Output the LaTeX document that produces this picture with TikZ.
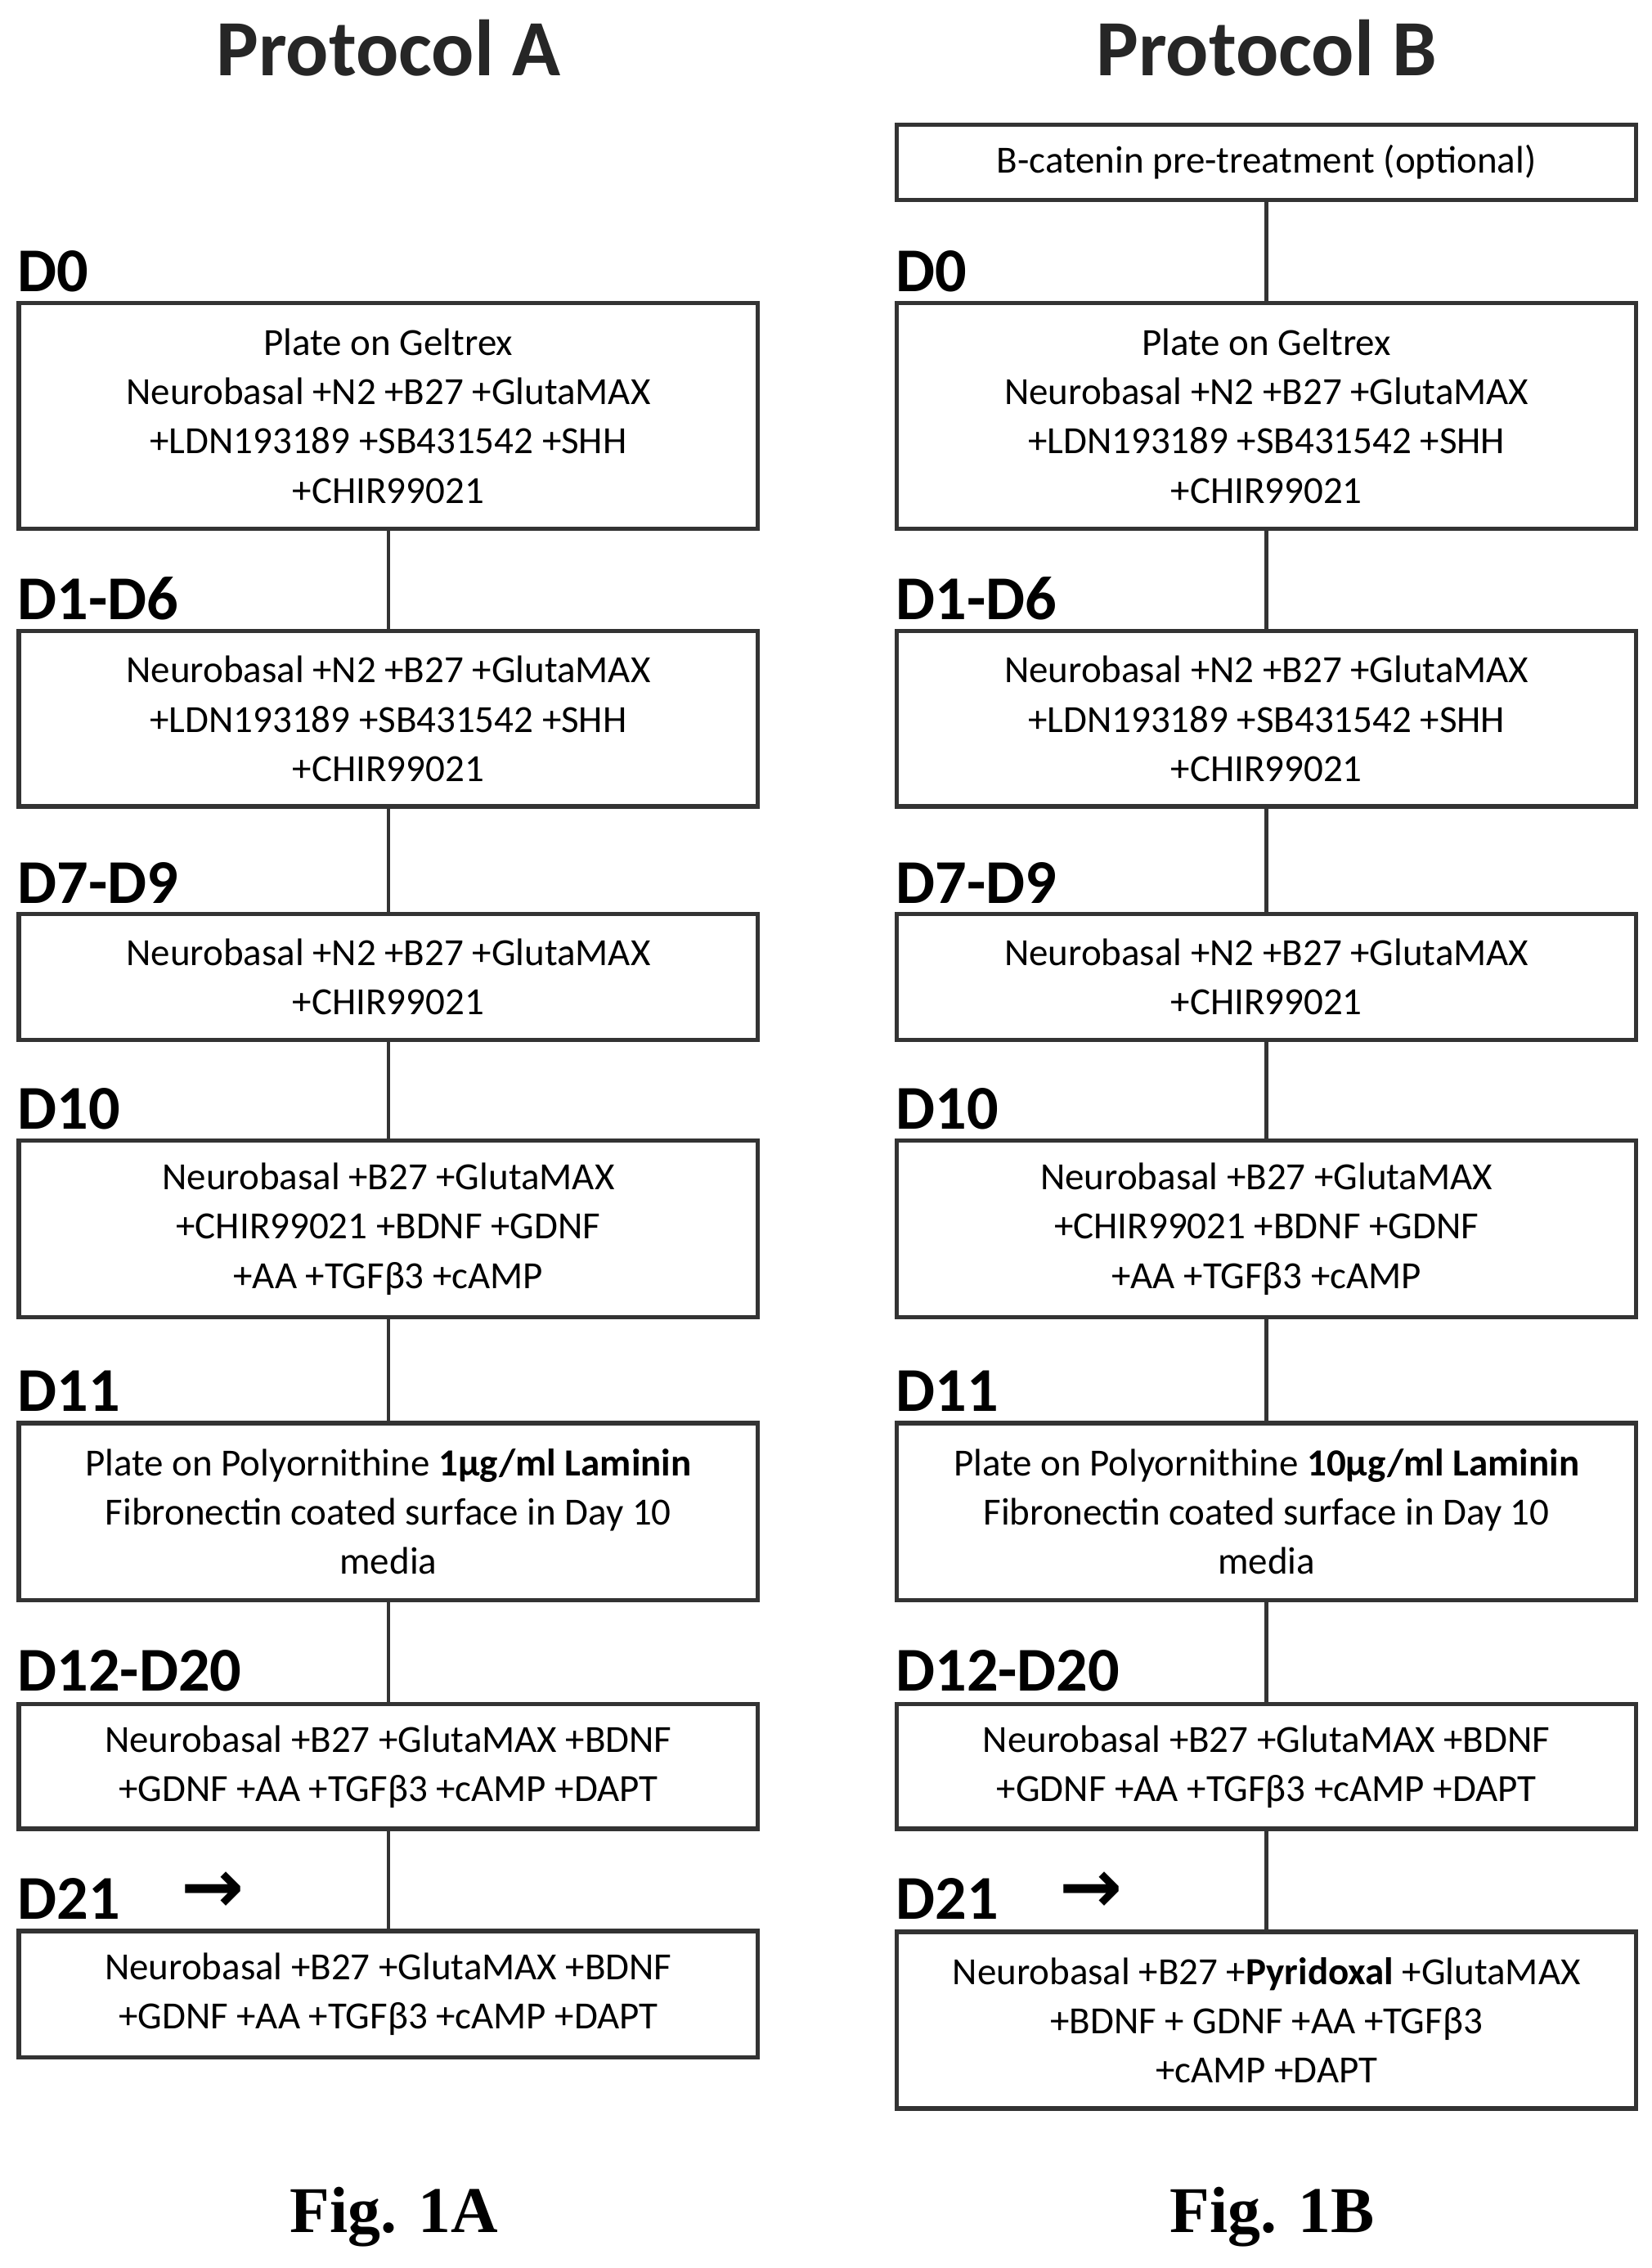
\documentclass[tikz,border=0pt]{standalone}
\usepackage{fontspec}
\setmainfont{Carlito}
\newfontfamily\serifb{Liberation Serif}
\newfontfamily\dejavu{DejaVu Sans}
\begin{document}
\begin{tikzpicture}[x=1pt,y=-1pt,
  box/.style={draw=black!80,line width=3pt,minimum width=510pt,align=center,inner sep=0pt,font=\fontsize{26.5}{34}\selectfont},
  lab/.style={anchor=west,font=\fontsize{43}{43}\selectfont\bfseries,inner sep=0pt},
  ttl/.style={font=\fontsize{55}{55}\selectfont\bfseries,text=black!85},
  fig/.style={font=\serifb\fontsize{45}{45}\selectfont\bfseries},
  con/.style={line width=2.5pt,draw=black!80}]
\useasboundingbox (0,0) rectangle (1140,1565);
\node[ttl] (ta) at (268,33) {Protocol A};
\node[ttl] (tb) at (874,33) {Protocol B};
\node[fig] (fa) at (272,1530) {Fig. 1A};
\node[fig] (fb) at (878,1530) {Fig. 1B};
\foreach \s/\x in {a/12,b/618}{
\node[lab] (\s l0) at (\x,187) {D0};
\node[lab] (\s l1) at (\x,413) {D1-D6};
\node[lab] (\s l2) at (\x,609) {D7-D9};
\node[lab] (\s l3) at (\x,765) {D10};
\node[lab] (\s l4) at (\x,960) {D11};
\node[lab] (\s l5) at (\x,1153) {D12-D20};
\node[lab] (\s l6) at (\x,1310) {D21};
\node[font=\dejavu\bfseries\fontsize{52}{52}\selectfont,inner sep=0pt] (\s ar) at (\x+135,1306) {→};
}
% Protocol A
\node[box,minimum height=156pt] (a0) at (268,287) {Plate on Geltrex\\Neurobasal +N2 +B27 +GlutaMAX\\+LDN193189 +SB431542 +SHH\\+CHIR99021};
\node[box,minimum height=121pt] (a1) at (268,496) {Neurobasal +N2 +B27 +GlutaMAX\\+LDN193189 +SB431542 +SHH\\+CHIR99021};
\node[box,minimum height=87pt] (a2) at (268,674) {Neurobasal +N2 +B27 +GlutaMAX\\+CHIR99021};
\node[box,minimum height=122pt] (a3) at (268,848) {Neurobasal +B27 +GlutaMAX\\+CHIR99021 +BDNF +GDNF\\+AA +TGFβ3 +cAMP};
\node[box,minimum height=122pt] (a4) at (268,1043) {Plate on Polyornithine \textbf{1µg/ml Laminin}\\Fibronectin coated surface in Day 10\\media};
\node[box,minimum height=86pt] (a5) at (268,1219) {Neurobasal +B27 +GlutaMAX +BDNF\\+GDNF +AA +TGFβ3 +cAMP +DAPT};
\node[box,minimum height=87pt] (a6) at (268,1376) {Neurobasal +B27 +GlutaMAX +BDNF\\+GDNF +AA +TGFβ3 +cAMP +DAPT};
% Protocol B
\node[box,minimum height=52pt] (bp) at (874,112) {B-catenin pre-treatment (optional)};
\node[box,minimum height=156pt] (b0) at (874,287) {Plate on Geltrex\\Neurobasal +N2 +B27 +GlutaMAX\\+LDN193189 +SB431542 +SHH\\+CHIR99021};
\node[box,minimum height=121pt] (b1) at (874,496) {Neurobasal +N2 +B27 +GlutaMAX\\+LDN193189 +SB431542 +SHH\\+CHIR99021};
\node[box,minimum height=87pt] (b2) at (874,674) {Neurobasal +N2 +B27 +GlutaMAX\\+CHIR99021};
\node[box,minimum height=122pt] (b3) at (874,848) {Neurobasal +B27 +GlutaMAX\\+CHIR99021 +BDNF +GDNF\\+AA +TGFβ3 +cAMP};
\node[box,minimum height=122pt] (b4) at (874,1043) {Plate on Polyornithine \textbf{10µg/ml Laminin}\\Fibronectin coated surface in Day 10\\media};
\node[box,minimum height=86pt] (b5) at (874,1219) {Neurobasal +B27 +GlutaMAX +BDNF\\+GDNF +AA +TGFβ3 +cAMP +DAPT};
\node[box,minimum height=122pt] (b6) at (874,1394) {Neurobasal +B27 +\textbf{Pyridoxal} +GlutaMAX\\+BDNF + GDNF +AA +TGFβ3\\+cAMP +DAPT};
\foreach \s in {a,b}{
\draw[con] (\s0) -- (\s1);
\draw[con] (\s1) -- (\s2);
\draw[con] (\s2) -- (\s3);
\draw[con] (\s3) -- (\s4);
\draw[con] (\s4) -- (\s5);
\draw[con] (\s5) -- (\s6);
}
\draw[con] (bp) -- (b0);
\end{tikzpicture}
\end{document}
